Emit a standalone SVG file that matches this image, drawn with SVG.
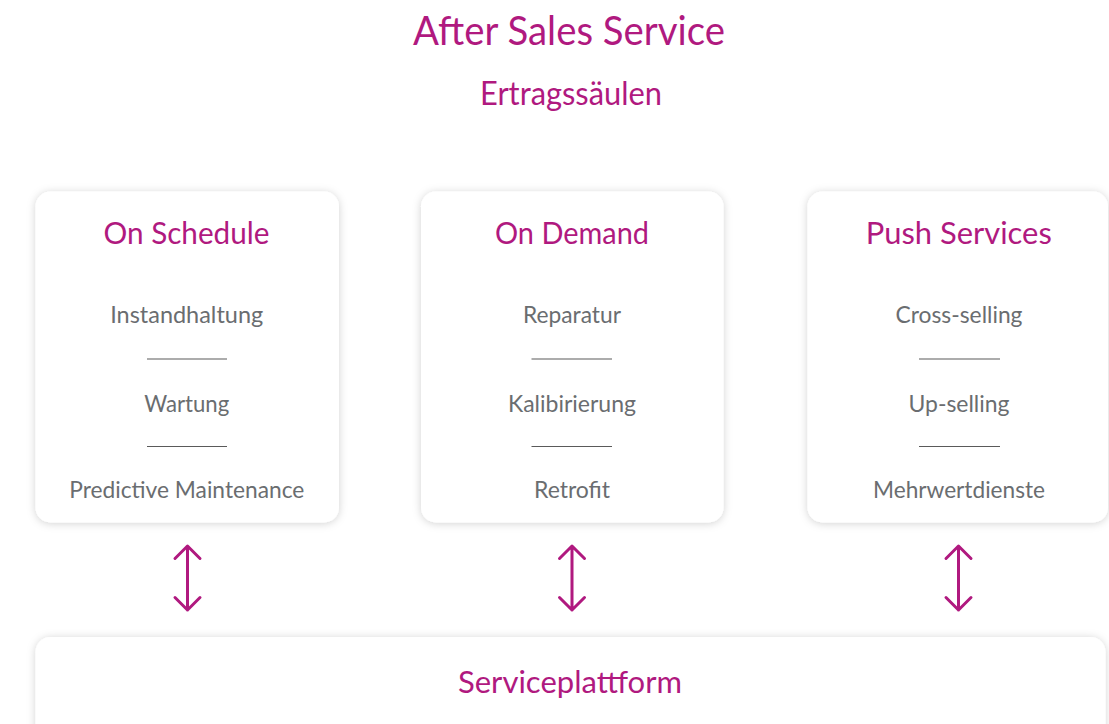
<svg xmlns="http://www.w3.org/2000/svg" width="1109" height="724" viewBox="0 0 1109 724">
  <style>
    text { font-family: Lato, "Open Sans", "Liberation Sans", sans-serif; text-anchor: middle; }
    .title { fill: #b0197f; font-size: 41px; }
    .sub { fill: #b0197f; font-size: 33px; }
    .head { fill: #b0197f; font-size: 30px; }
    .item { fill: #6a6d70; font-size: 23px; }
    .card { fill: #ffffff; filter: url(#shadow); }
    .sep { stroke: #5a5a5a; stroke-width: 1.2; }
    .conn path { fill: none; stroke: #b0197f; stroke-width: 3; stroke-linecap: round; stroke-linejoin: round; }
  </style>
  <defs>
    <filter id="shadow" x="-10%" y="-10%" width="120%" height="120%">
      <feDropShadow dx="0" dy="1" stdDeviation="4" flood-color="#000000" flood-opacity="0.18"/>
    </filter>
  </defs>

  <rect width="1109" height="724" fill="#ffffff"/>

  <g id="header">
    <text class="title" x="569" y="45" textLength="312" lengthAdjust="spacingAndGlyphs">After Sales Service</text>
    <text class="sub" x="571" y="105" textLength="182" lengthAdjust="spacingAndGlyphs">Ertragssäulen</text>
  </g>

  <g id="on-schedule">
    <rect class="card" x="35.5" y="191.5" width="303.5" height="331" rx="15"/>
    <text class="head" x="186.5" y="244" textLength="166" lengthAdjust="spacingAndGlyphs">On Schedule</text>
    <text class="item" x="186.7" y="323" textLength="153" lengthAdjust="spacingAndGlyphs">Instandhaltung</text>
    <line class="sep" x1="147" y1="359" x2="227" y2="359"/>
    <text class="item" x="186.7" y="411.5" textLength="85" lengthAdjust="spacingAndGlyphs">Wartung</text>
    <line class="sep" x1="147" y1="446.5" x2="227" y2="446.5"/>
    <text class="item" x="186.8" y="498" textLength="235" lengthAdjust="spacingAndGlyphs">Predictive Maintenance</text>
  </g>

  <g id="on-demand">
    <rect class="card" x="421" y="191.5" width="302.5" height="331" rx="15"/>
    <text class="head" x="572" y="244" textLength="154" lengthAdjust="spacingAndGlyphs">On Demand</text>
    <text class="item" x="572" y="323" textLength="98" lengthAdjust="spacingAndGlyphs">Reparatur</text>
    <line class="sep" x1="531.5" y1="359" x2="612" y2="359"/>
    <text class="item" x="572" y="411.5" textLength="128" lengthAdjust="spacingAndGlyphs">Kalibirierung</text>
    <line class="sep" x1="531.5" y1="446.5" x2="612" y2="446.5"/>
    <text class="item" x="572" y="498" textLength="76" lengthAdjust="spacingAndGlyphs">Retrofit</text>
  </g>

  <g id="push-services">
    <rect class="card" x="807.5" y="191.5" width="300.5" height="331" rx="15"/>
    <text class="head" x="958.8" y="244" textLength="186" lengthAdjust="spacingAndGlyphs">Push Services</text>
    <text class="item" x="959" y="323" textLength="127" lengthAdjust="spacingAndGlyphs">Cross-selling</text>
    <line class="sep" x1="919" y1="359" x2="1000" y2="359"/>
    <text class="item" x="959" y="411.5" textLength="101" lengthAdjust="spacingAndGlyphs">Up-selling</text>
    <line class="sep" x1="919" y1="446.5" x2="1000" y2="446.5"/>
    <text class="item" x="959" y="498" textLength="172" lengthAdjust="spacingAndGlyphs">Mehrwertdienste</text>
  </g>

  <g id="serviceplattform">
    <rect class="card" x="35.5" y="637" width="1070" height="110" rx="15"/>
    <text class="head" x="570" y="693" textLength="224" lengthAdjust="spacingAndGlyphs">Serviceplattform</text>
  </g>

  <!-- two-way links between each pillar and the platform -->
  <g id="connectors" class="conn">
    <path d="M187.5 546 V610 M175 558.5 L187.5 546 L200 558.5 M175 597.5 L187.5 610 L200 597.5"/>
    <path d="M572 546 V610 M559.5 558.5 L572 546 L584.5 558.5 M559.5 597.5 L572 610 L584.5 597.5"/>
    <path d="M958.5 546 V610 M946 558.5 L958.5 546 L971 558.5 M946 597.5 L958.5 610 L971 597.5"/>
  </g>
</svg>
